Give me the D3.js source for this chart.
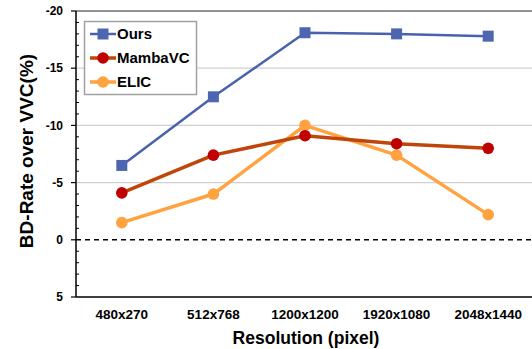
<!DOCTYPE html>
<html>
<head>
<meta charset="utf-8">
<script src="https://cdn.jsdelivr.net/npm/d3@7"></script>
<style>
  html, body { margin:0; padding:0; background:#fff; }
  svg { display:block; font-family:"Liberation Sans", Arial, sans-serif; font-weight:bold; }
</style>
</head>
<body>
<svg id="chart" width="532" height="349"></svg>
<script>
const categories = ['480x270', '512x768', '1200x1200', '1920x1080', '2048x1440'];
const ours    = [-6.5, -12.5, -18.1, -18.0, -17.8];
const mambavc = [-4.1, -7.4, -9.1, -8.4, -8.0];
const elic    = [-1.5, -4.0, -10.0, -7.4, -2.2];
const yTicks  = [-20, -15, -10, -5, 0, 5];

const series = [
  { name:'Ours',    values:ours,    line:'#4A62AD', mark:'#4E66B0', width:2.5, shape:'square' },
  { name:'MambaVC', values:mambavc, line:'#C0450A', mark:'#C00000', width:3.5, shape:'circle' },
  { name:'ELIC',    values:elic,    line:'#FFA23F', mark:'#FFA23F', width:3.5, shape:'circle' }
];

const M = { top:11, right:0, bottom:52, left:76 };
const W = 532, H = 349;
const svg = d3.select('#chart');

const x = d3.scaleBand().domain(categories).range([M.left, 534]);
const y = d3.scaleLinear().domain([-20, 5]).range([M.top, H - M.bottom]);
const cx = c => x(c) + x.bandwidth() / 2;

// gridlines
svg.append('g')
  .selectAll('line')
  .data(yTicks.filter(t => t !== 0 && t !== 5))
  .join('line')
    .attr('x1', M.left).attr('x2', W)
    .attr('y1', d => y(d)).attr('y2', d => y(d))
    .attr('stroke', d => d === -20 ? '#6e6e6e' : '#d0d0d0')
    .attr('stroke-width', d => d === -20 ? 1.5 : 1.2);

// zero line
svg.append('line')
  .attr('x1', M.left).attr('x2', W)
  .attr('y1', y(0)).attr('y2', y(0))
  .attr('stroke', '#000').attr('stroke-width', 1.5)
  .attr('stroke-dasharray', '5,4');

// y axis
const yAxis = svg.append('g');
yAxis.append('line')
  .attr('x1', M.left).attr('x2', M.left)
  .attr('y1', y(-20)).attr('y2', y(5))
  .attr('stroke', '#000').attr('stroke-width', 1.5);
yAxis.selectAll('line.minor')
  .data(d3.range(-20, 5.01, 1).filter(v => v % 5 !== 0))
  .join('line')
    .attr('class', 'minor')
    .attr('x1', M.left).attr('x2', M.left + 3)
    .attr('y1', d => y(d)).attr('y2', d => y(d))
    .attr('stroke', '#000').attr('stroke-width', 1);
yAxis.selectAll('line.major')
  .data(yTicks)
  .join('line')
    .attr('class', 'major')
    .attr('x1', M.left - 5).attr('x2', M.left)
    .attr('y1', d => y(d)).attr('y2', d => y(d))
    .attr('stroke', '#000').attr('stroke-width', 1.2);
yAxis.selectAll('text')
  .data(yTicks)
  .join('text')
    .attr('x', M.left - 13).attr('y', d => y(d)).attr('dy', '0.35em')
    .attr('text-anchor', 'end').attr('font-size', 12)
    .text(d => d);

// x axis
svg.append('line')
  .attr('x1', M.left).attr('x2', W)
  .attr('y1', y(5)).attr('y2', y(5))
  .attr('stroke', '#000').attr('stroke-width', 1.5);
svg.append('g')
  .selectAll('text')
  .data(categories)
  .join('text')
    .attr('x', d => cx(d)).attr('y', 319)
    .attr('text-anchor', 'middle').attr('font-size', 13.5)
    .text(d => d);

// titles
svg.append('text')
  .attr('x', 306).attr('y', 344)
  .attr('text-anchor', 'middle').attr('font-size', 17.5)
  .text('Resolution (pixel)');
svg.append('text')
  .attr('transform', 'translate(33,151) rotate(-90)')
  .attr('text-anchor', 'middle').attr('font-size', 19)
  .text('BD-Rate over VVC(%)');

// lines + markers
const line = d3.line().x((d, i) => cx(categories[i])).y(d => y(d));

function marker(g, s, px, py) {
  if (s.shape === 'square') {
    g.append('rect').attr('x', px - 5.5).attr('y', py - 5.5)
      .attr('width', 11).attr('height', 11).attr('fill', s.mark);
  } else {
    g.append('circle').attr('cx', px).attr('cy', py).attr('r', 5.8).attr('fill', s.mark);
  }
}

// draw back to front: ELIC, MambaVC, Ours
[series[2], series[1], series[0]].forEach(s => {
  const g = svg.append('g');
  g.append('path')
    .attr('d', line(s.values))
    .attr('fill', 'none')
    .attr('stroke', s.line)
    .attr('stroke-width', s.width)
    .attr('stroke-linejoin', 'round');
  s.values.forEach((v, i) => marker(g, s, cx(categories[i]), y(v)));
});

// legend
const lg = svg.append('g');
lg.append('rect')
  .attr('x', 84.5).attr('y', 21.5).attr('width', 112).attr('height', 73)
  .attr('fill', '#fff').attr('stroke', '#a0a0a0').attr('stroke-width', 1.5);
series.forEach((s, i) => {
  const ly = 34 + i * 24;
  lg.append('line')
    .attr('x1', 90).attr('x2', 116).attr('y1', ly).attr('y2', ly)
    .attr('stroke', s.line).attr('stroke-width', s.width);
  marker(lg, s, 103, ly);
  lg.append('text')
    .attr('x', 117).attr('y', ly).attr('dy', '0.36em')
    .attr('font-size', 15)
    .text(s.name);
});
</script>
</body>
</html>
